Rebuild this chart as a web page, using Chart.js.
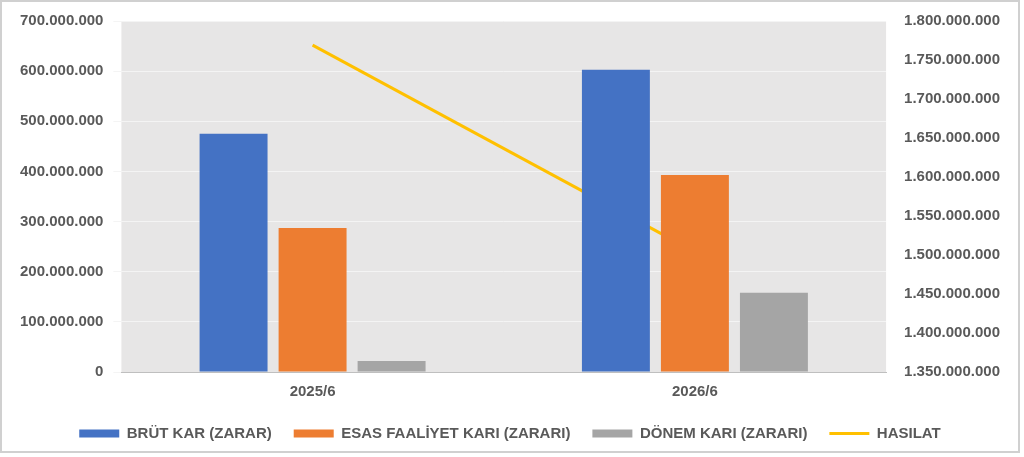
<!DOCTYPE html>
<html><head><meta charset="utf-8">
<script src="https://cdn.jsdelivr.net/npm/chart.js@4"></script>
<style>html,body{margin:0;background:#fff}#w{width:1020px;height:453px;border:2px solid #d0d0d0;box-sizing:border-box;margin:0}</style>
</head><body><div id="w"><canvas id="c"></canvas></div>
<script>
const categories=["2025/6","2026/6"];
const brutKar=[475000000,603000000];
const esasFaaliyet=[287000000,393000000];
const donemKari=[22000000,158000000];
const hasilat=[1769000000,1504000000];
const fmt=v=>Math.round(v).toString().replace(/\B(?=(\d{3})+(?!\d))/g,".");
const bg={id:'bg',beforeDraw(c){const a=c.chartArea,x=c.ctx;x.save();x.fillStyle='#e7e6e6';x.fillRect(a.left,a.top,a.right-a.left,a.bottom-a.top);x.restore();}};
Chart.defaults.font.family="'Liberation Sans',Arial,sans-serif";
Chart.defaults.font.weight='bold';
Chart.defaults.color='#595959';
new Chart(document.getElementById('c'),{
 data:{labels:categories,datasets:[
  {type:'bar',label:'BRÜT KAR (ZARAR)',data:brutKar,backgroundColor:'#4472c4',yAxisID:'y',pointStyle:'rect'},
  {type:'bar',label:'ESAS FAALİYET KARI (ZARARI)',data:esasFaaliyet,backgroundColor:'#ed7d31',yAxisID:'y',pointStyle:'rect'},
  {type:'bar',label:'DÖNEM KARI (ZARARI)',data:donemKari,backgroundColor:'#a5a5a5',yAxisID:'y',pointStyle:'rect'},
  {type:'line',label:'HASILAT',data:hasilat,borderColor:'#ffc000',backgroundColor:'#ffc000',borderWidth:3,pointRadius:0,yAxisID:'y1',pointStyle:'line'}
 ]},
 options:{responsive:true,maintainAspectRatio:false,animation:false,
  layout:{padding:{left:8,right:8,top:10,bottom:0}},
  datasets:{bar:{categoryPercentage:0.62,barPercentage:0.86}},
  plugins:{legend:{position:'bottom',labels:{usePointStyle:true,pointStyleWidth:40,boxHeight:8,padding:22,color:'#595959',font:{size:15,weight:'bold'}}},tooltip:{enabled:false}},
  scales:{
   x:{grid:{display:false},border:{color:'#bfbfbf'},ticks:{font:{size:15,weight:'bold'},color:'#595959'}},
   y:{position:'left',min:0,max:700000000,ticks:{stepSize:100000000,callback:v=>fmt(v),font:{size:15,weight:'bold'},color:'#595959',padding:10},grid:{color:'#f4f4f4'},border:{display:false}},
   y1:{position:'right',min:1350000000,max:1800000000,ticks:{stepSize:50000000,callback:v=>fmt(v),font:{size:15,weight:'bold'},color:'#595959',padding:10},grid:{display:false},border:{display:false}}
  }},
 plugins:[bg]
});
</script></body></html>
